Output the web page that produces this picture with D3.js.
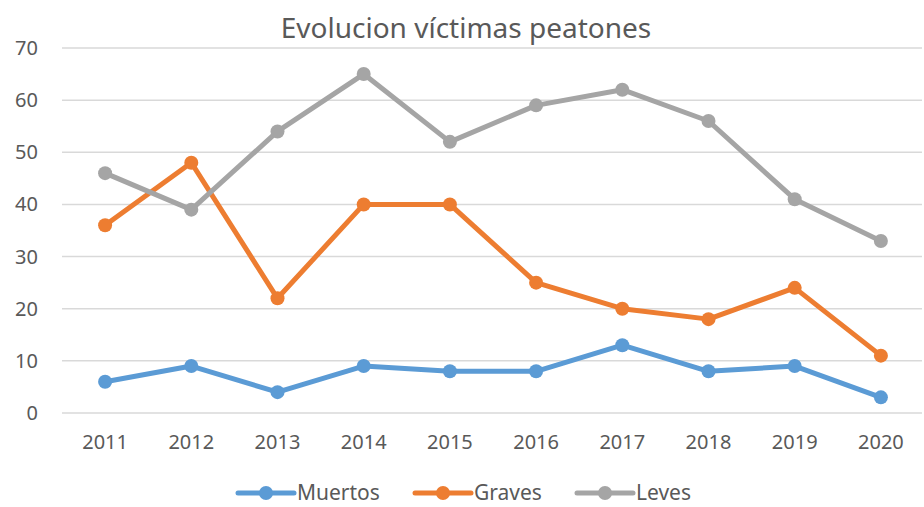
<!DOCTYPE html>
<html>
<head>
<meta charset="utf-8">
<script src="https://cdn.jsdelivr.net/npm/d3@7"></script>
<style>
  body { margin: 0; background: #fff; }
  svg { display: block; font-family: "Noto Sans", sans-serif; }
</style>
</head>
<body>
<div id="chart"></div>
<script>
const years = ["2011", "2012", "2013", "2014", "2015", "2016", "2017", "2018", "2019", "2020"];
const muertos = [6, 9, 4, 9, 8, 8, 13, 8, 9, 3];
const graves = [36, 48, 22, 40, 40, 25, 20, 18, 24, 11];
const leves = [46, 39, 54, 65, 52, 59, 62, 56, 41, 33];
const yTicks = [0, 10, 20, 30, 40, 50, 60, 70];

const series = [
    { name: "Muertos", values: muertos, color: "#5B9BD5" },
    { name: "Graves", values: graves, color: "#ED7D31" },
    { name: "Leves", values: leves, color: "#A5A5A5" }
];

const width = 924, height = 507;
const svg = d3.select("#chart").append("svg")
    .attr("width", width)
    .attr("height", height);

const x = d3.scaleBand().domain(years).range([62, 924]);
const y = d3.scaleLinear().domain([0, 70]).range([413, 48]);

// gridlines
svg.append("g")
    .selectAll("line")
    .data(yTicks)
    .join("line")
    .attr("x1", 62)
    .attr("x2", 922)
    .attr("y1", d => y(d))
    .attr("y2", d => y(d))
    .attr("stroke", "#d9d9d9")
    .attr("stroke-width", 1.5);

// y labels
svg.append("g")
    .attr("text-anchor", "end")
    .selectAll("text")
    .data(yTicks)
    .join("text")
    .attr("x", 38)
    .attr("y", d => y(d))
    .attr("dy", "0.35em")
    .attr("fill", "#595959")
    .attr("font-size", 20)
    .text(d => d);

// x labels
svg.append("g")
    .attr("text-anchor", "middle")
    .selectAll("text")
    .data(years)
    .join("text")
    .attr("x", d => x(d) + x.bandwidth() / 2)
    .attr("y", 442)
    .attr("dy", "0.35em")
    .attr("fill", "#595959")
    .attr("font-size", 20)
    .text(d => d);

const line = d3.line()
    .x((d, i) => x(years[i]) + x.bandwidth() / 2)
    .y(d => y(d));

series.forEach(s => {
    const g = svg.append("g");
    g.append("path")
        .attr("d", line(s.values))
        .attr("fill", "none")
        .attr("stroke", s.color)
        .attr("stroke-width", 5)
        .attr("stroke-linejoin", "round")
        .attr("stroke-linecap", "round");
    g.selectAll("circle")
        .data(s.values)
        .join("circle")
        .attr("cx", (d, i) => x(years[i]) + x.bandwidth() / 2)
        .attr("cy", d => y(d))
        .attr("r", 7)
        .attr("fill", s.color);
});

// title
svg.append("text")
    .attr("x", 466)
    .attr("y", 28)
    .attr("dy", "0.35em")
    .attr("text-anchor", "middle")
    .attr("fill", "#595959")
    .attr("font-size", 28)
    .text("Evolucion víctimas peatones");

// legend
const legendX = [238, 415, 577];
const legend = svg.append("g")
    .selectAll("g")
    .data(series)
    .join("g")
    .attr("transform", (d, i) => `translate(${legendX[i]},493)`);
legend.append("line")
    .attr("x1", 0).attr("x2", 56)
    .attr("stroke", d => d.color)
    .attr("stroke-width", 5)
    .attr("stroke-linecap", "round");
legend.append("circle")
    .attr("cx", 28).attr("r", 7)
    .attr("fill", d => d.color);
legend.append("text")
    .attr("x", 59)
    .attr("dy", "0.35em")
    .attr("fill", "#595959")
    .attr("font-size", 21)
    .text(d => d.name);
</script>
</body>
</html>
